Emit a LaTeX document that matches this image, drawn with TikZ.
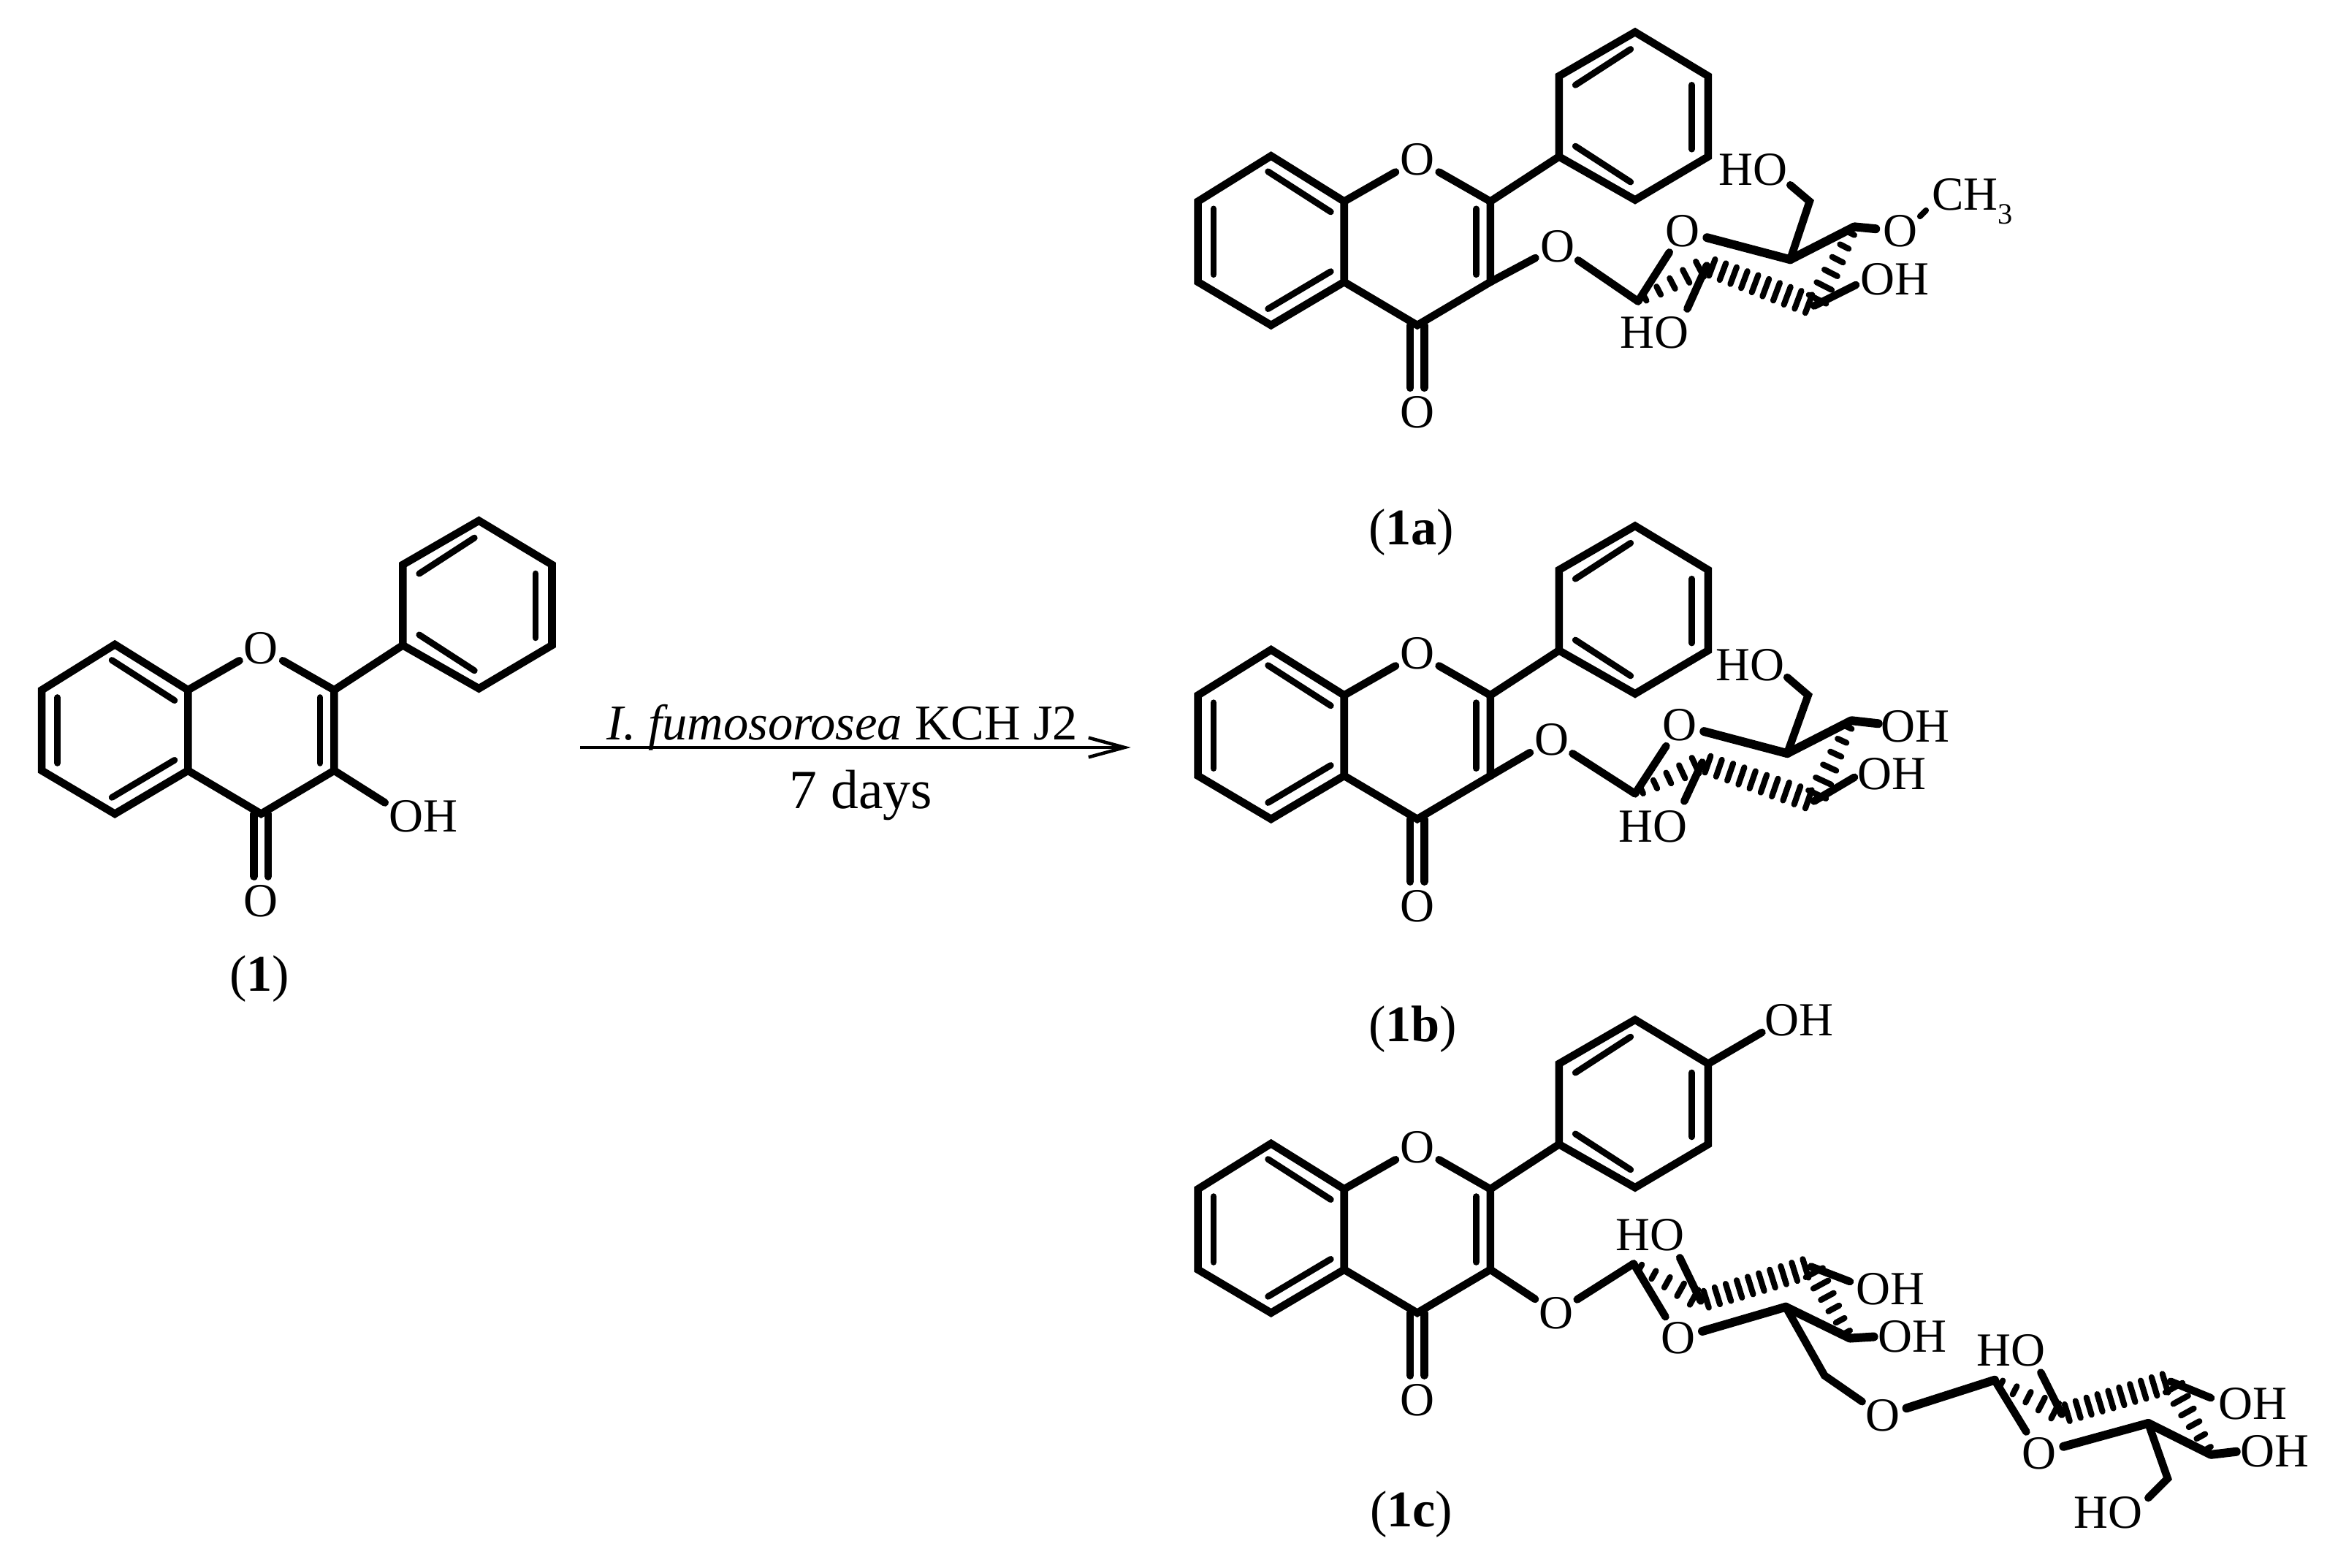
\documentclass[tikz,border=0pt]{standalone}
\usepackage{fontspec}
\setmainfont{Liberation Serif}
\usetikzlibrary{calc,arrows.meta}
\tikzset{
  bond/.style={line width=3pt,line cap=round,line join=miter,black},
  innerbond/.style={line width=2.5pt,line cap=round,black},
  boldbond/.style={line width=3.4pt,line cap=round,line join=round,black},
  hashbar/.style={line width=2.3pt,line cap=round,black},
  atom/.style={circle,inner sep=0pt,outer sep=0pt,minimum size=19.5pt,font=\fontsize{18.5}{20}\selectfont},
  lab/.style={inner sep=0pt,outer sep=0pt,font=\fontsize{18.5}{20}\selectfont},
  captext/.style={inner sep=0pt,outer sep=0pt,font=\fontsize{20}{24}\selectfont},
  core/.pic={
    \coordinate (-b1) at (852,104.5); \coordinate (-b2) at (901,135);
    \coordinate (-b3) at (901,189); \coordinate (-b4) at (852,218);
    \coordinate (-b5) at (803,189); \coordinate (-b6) at (803,135);
    \coordinate (-c2) at (999,135); \coordinate (-c3) at (999,189);
    \coordinate (-c4) at (950,218);
    \coordinate (-p1) at (1096,21.5);  \coordinate (-p2) at (1145,51);
    \coordinate (-p3) at (1145,105); \coordinate (-p4) at (1096,134);
    \coordinate (-p5) at (1045,105); \coordinate (-p6) at (1045,51);
    \node[atom] (-o1) at (950,107) {O};
    \node[atom] (-o4) at (950,276.5) {O};
    \draw[bond] (-b1)--(-b2)--(-b3)--(-b4)--(-b5)--(-b6)--cycle;
    \draw[bond] (-b2)--(-o1);
    \draw[bond] (-o1)--(-c2);
    \draw[bond] (-c2)--(-c3)--(-c4)--(-b3);
    \draw[bond] (-p1)--(-p2)--(-p3)--(-p4)--(-p5)--(-p6)--cycle;
    \draw[bond] (-c2)--(-p5);
    \coordinate (-i1) at (850,115); \coordinate (-i2) at (892,142);
    \coordinate (-i3) at (813.5,140); \coordinate (-i4) at (813.5,184);
    \coordinate (-i5) at (850,207); \coordinate (-i6) at (892,182);
    \coordinate (-i7) at (989.5,140); \coordinate (-i8) at (989.5,184);
    \draw[innerbond] (-i1)--(-i2);
    \draw[innerbond] (-i3)--(-i4);
    \draw[innerbond] (-i5)--(-i6);
    \draw[innerbond] (-i7)--(-i8);
    \coordinate (-j1) at (1093,33);  \coordinate (-j2) at (1056,57);
    \coordinate (-j3) at (1134,57);  \coordinate (-j4) at (1134,100);
    \coordinate (-j5) at (1093,122); \coordinate (-j6) at (1056,98);
    \draw[innerbond] (-j1)--(-j2);
    \draw[innerbond] (-j3)--(-j4);
    \draw[innerbond] (-j5)--(-j6);
    \coordinate (-d1) at (945.3,218); \coordinate (-d2) at (945.3,260);
    \coordinate (-d3) at (954.7,218); \coordinate (-d4) at (954.7,260);
    \draw[bond] (-d1)--(-d2);
    \draw[bond] (-d3)--(-d4);
  }
}
\newcommand{\hashbond}[5]{%
  \foreach \i in {1,...,#3}{%
    \pgfmathsetmacro\tv{(\i-0.5)/#3}%
    \pgfmathsetmacro\hv{#4+(#5-#4)*\tv}%
    \draw[hashbar] ($(#1)!\tv!(#2)!\hv pt!90:(#2)$) -- ($(#1)!\tv!(#2)!\hv pt!-90:(#2)$);
  }%
}
\begin{document}
\begin{tikzpicture}[x=0.020418cm,y=-0.020418cm]
\useasboundingbox (0,0) rectangle (1567.2,1051);

%% ---------- compound 1 ----------
\pic (s) at (-775,327.5) {core};
\coordinate (soh) at (258,538);
\node[lab] (soht) at (284,547) {OH};
\draw[bond] (s-c3)--(soh);
\node[captext] (scap) at (174,656) {(\textbf{1})};

%% ---------- arrow ----------
\coordinate (arrs) at (389,501);
\coordinate (arre) at (758,501);
\draw[line width=1.3pt,-{Straight Barb[length=14pt,width=7.6pt,line width=1.3pt]}] (arrs)--(arre);
\node[inner sep=0pt,anchor=base,font=\fontsize{19.5}{22}\selectfont] (rtop) at (564.5,496) {\textit{I. fumosorosea} KCH J2};
\node[inner sep=0pt,font=\fontsize{21.5}{24}\selectfont] (rbot) at (577,533) {7 days};

%% ---------- compound 1a ----------
\pic (a) at (0,0) {core};
\node[captext] (acap) at (946,357) {(\textbf{1a})};
\node[atom] (aoe) at (1044,165) {O};
\node[atom] (aor) at (1128,155) {O};
\node[atom] (aom) at (1274,155) {O};
\coordinate (a1) at (1098,202);
\coordinate (a2) at (1144,178);
\coordinate (a3) at (1216,205);
\coordinate (a4) at (1243,152);
\coordinate (a5) at (1200,174);
\coordinate (a6) at (1213,135);
\coordinate (a6e) at (1200,124);
\coordinate (a3e) at (1244,191);
\coordinate (a2e) at (1131,207);
\coordinate (amd1) at (1287,145);
\coordinate (amd2) at (1291,141);
\node[lab] (ahm) at (1175,114) {HO};
\node[lab] (aho3) at (1270,187) {OH};
\node[lab] (aho2) at (1109,223) {HO};
\node[lab] (ach) at (1322,135) {CH\raisebox{-0.3em}{\fontsize{11.5}{14}\selectfont 3}};
\draw[bond] (a-c3)--(aoe);
\draw[bond] (aoe)--(a1);
\draw[bond] (a1)--(aor);
\draw[boldbond] (aor)--(a5);
\draw[boldbond] (a5)--(a4)--(aom);
\draw[bond] (a5)--(a6)--(a6e);
\draw[bond] (a3)--(a3e);
\draw[bond] (a2)--(a2e);
\draw[hashbar] (amd1)--(amd2);
\hashbond{a4}{a3}{6}{1.2}{4}
\hashbond{a3}{a2}{10}{3.8}{3.4}
\hashbond{a2}{a1}{5}{3.6}{1}

%% ---------- compound 1b ----------
\pic (b) at (0,331) {core};
\node[captext] (bcap) at (947,690) {(\textbf{1b})};
\node[atom] (boe) at (1040,496) {O};
\node[atom] (bor) at (1126,486) {O};
\coordinate (b1) at (1096,532);
\coordinate (b2) at (1141,511);
\coordinate (b3) at (1216,537);
\coordinate (b4) at (1241,483);
\coordinate (b4e) at (1259,485);
\coordinate (b5) at (1198,505);
\coordinate (b6) at (1212,466);
\coordinate (b6e) at (1198,454);
\coordinate (b3e) at (1243,521);
\coordinate (b2e) at (1129,537);
\node[lab] (bhm) at (1173,446) {HO};
\node[lab] (bho4) at (1284,487) {OH};
\node[lab] (bho3) at (1268,519) {OH};
\node[lab] (bho2) at (1108,554) {HO};
\draw[bond] (b-c3)--(boe);
\draw[bond] (boe)--(b1);
\draw[bond] (b1)--(bor);
\draw[boldbond] (bor)--(b5);
\draw[boldbond] (b5)--(b4)--(b4e);
\draw[bond] (b5)--(b6)--(b6e);
\draw[bond] (b3)--(b3e);
\draw[bond] (b2)--(b2e);
\hashbond{b4}{b3}{6}{1.2}{4}
\hashbond{b3}{b2}{10}{3.8}{3.4}
\hashbond{b2}{b1}{5}{3.6}{1}

%% ---------- compound 1c ----------
\pic (c) at (0,662) {core};
\node[captext] (ccap) at (946,1015) {(\textbf{1c})};
\coordinate (cphe) at (1181,692);
\node[lab] (cpoh) at (1206,684) {OH};
\draw[bond] (c-p2)--(cphe);
\node[atom] (coe) at (1043,880) {O};
\node[atom] (cor) at (1125,897) {O};
\node[atom] (cog) at (1262,949) {O};
\node[atom] (cor2) at (1367,974) {O};
\coordinate (c1) at (1095,847);
\coordinate (c2) at (1140,872);
\coordinate (c3) at (1214,849);
\coordinate (c4) at (1240,897);
\coordinate (c4e) at (1256,896);
\coordinate (c5) at (1197,876);
\coordinate (c6) at (1223,922);
\coordinate (c2e) at (1126,843);
\coordinate (c3e) at (1240,859);
\node[lab] (cho2) at (1106,828) {HO};
\node[lab] (cho3) at (1267,864) {OH};
\node[lab] (cho4) at (1282,896) {OH};
\draw[bond] (c-c3)--(coe);
\draw[bond] (coe)--(c1);
\draw[bond] (c1)--(cor);
\draw[boldbond] (cor)--(c5);
\draw[boldbond] (c5)--(c4)--(c4e);
\draw[bond] (c5)--(c6)--(cog);
\draw[bond] (c2)--(c2e);
\draw[bond] (c3)--(c3e);
\hashbond{c4}{c3}{6}{1.2}{4}
\hashbond{c3}{c2}{10}{3.8}{3.4}
\hashbond{c2}{c1}{5}{3.6}{1}
%% second sugar
\coordinate (d1) at (1337,925);
\coordinate (d2) at (1382,948);
\coordinate (d3) at (1455,926);
\coordinate (d4) at (1482,975);
\coordinate (d4e) at (1499,973);
\coordinate (d5) at (1440,954);
\coordinate (d6) at (1453,991);
\coordinate (d6e) at (1440,1004);
\coordinate (d2e) at (1368,920);
\coordinate (d3e) at (1482,937);
\node[lab] (dho2) at (1348,905) {HO};
\node[lab] (dho3) at (1510,941) {OH};
\node[lab] (dho4) at (1525,973) {OH};
\node[lab] (dhm) at (1413,1014) {HO};
\draw[boldbond] (cog)--(d1);
\draw[bond] (d1)--(cor2);
\draw[boldbond] (cor2)--(d5);
\draw[boldbond] (d5)--(d4)--(d4e);
\draw[bond] (d5)--(d6)--(d6e);
\draw[bond] (d2)--(d2e);
\draw[bond] (d3)--(d3e);
\hashbond{d4}{d3}{6}{1.2}{4}
\hashbond{d3}{d2}{10}{3.8}{3.4}
\hashbond{d2}{d1}{5}{3.6}{1}
\end{tikzpicture}
\end{document}
